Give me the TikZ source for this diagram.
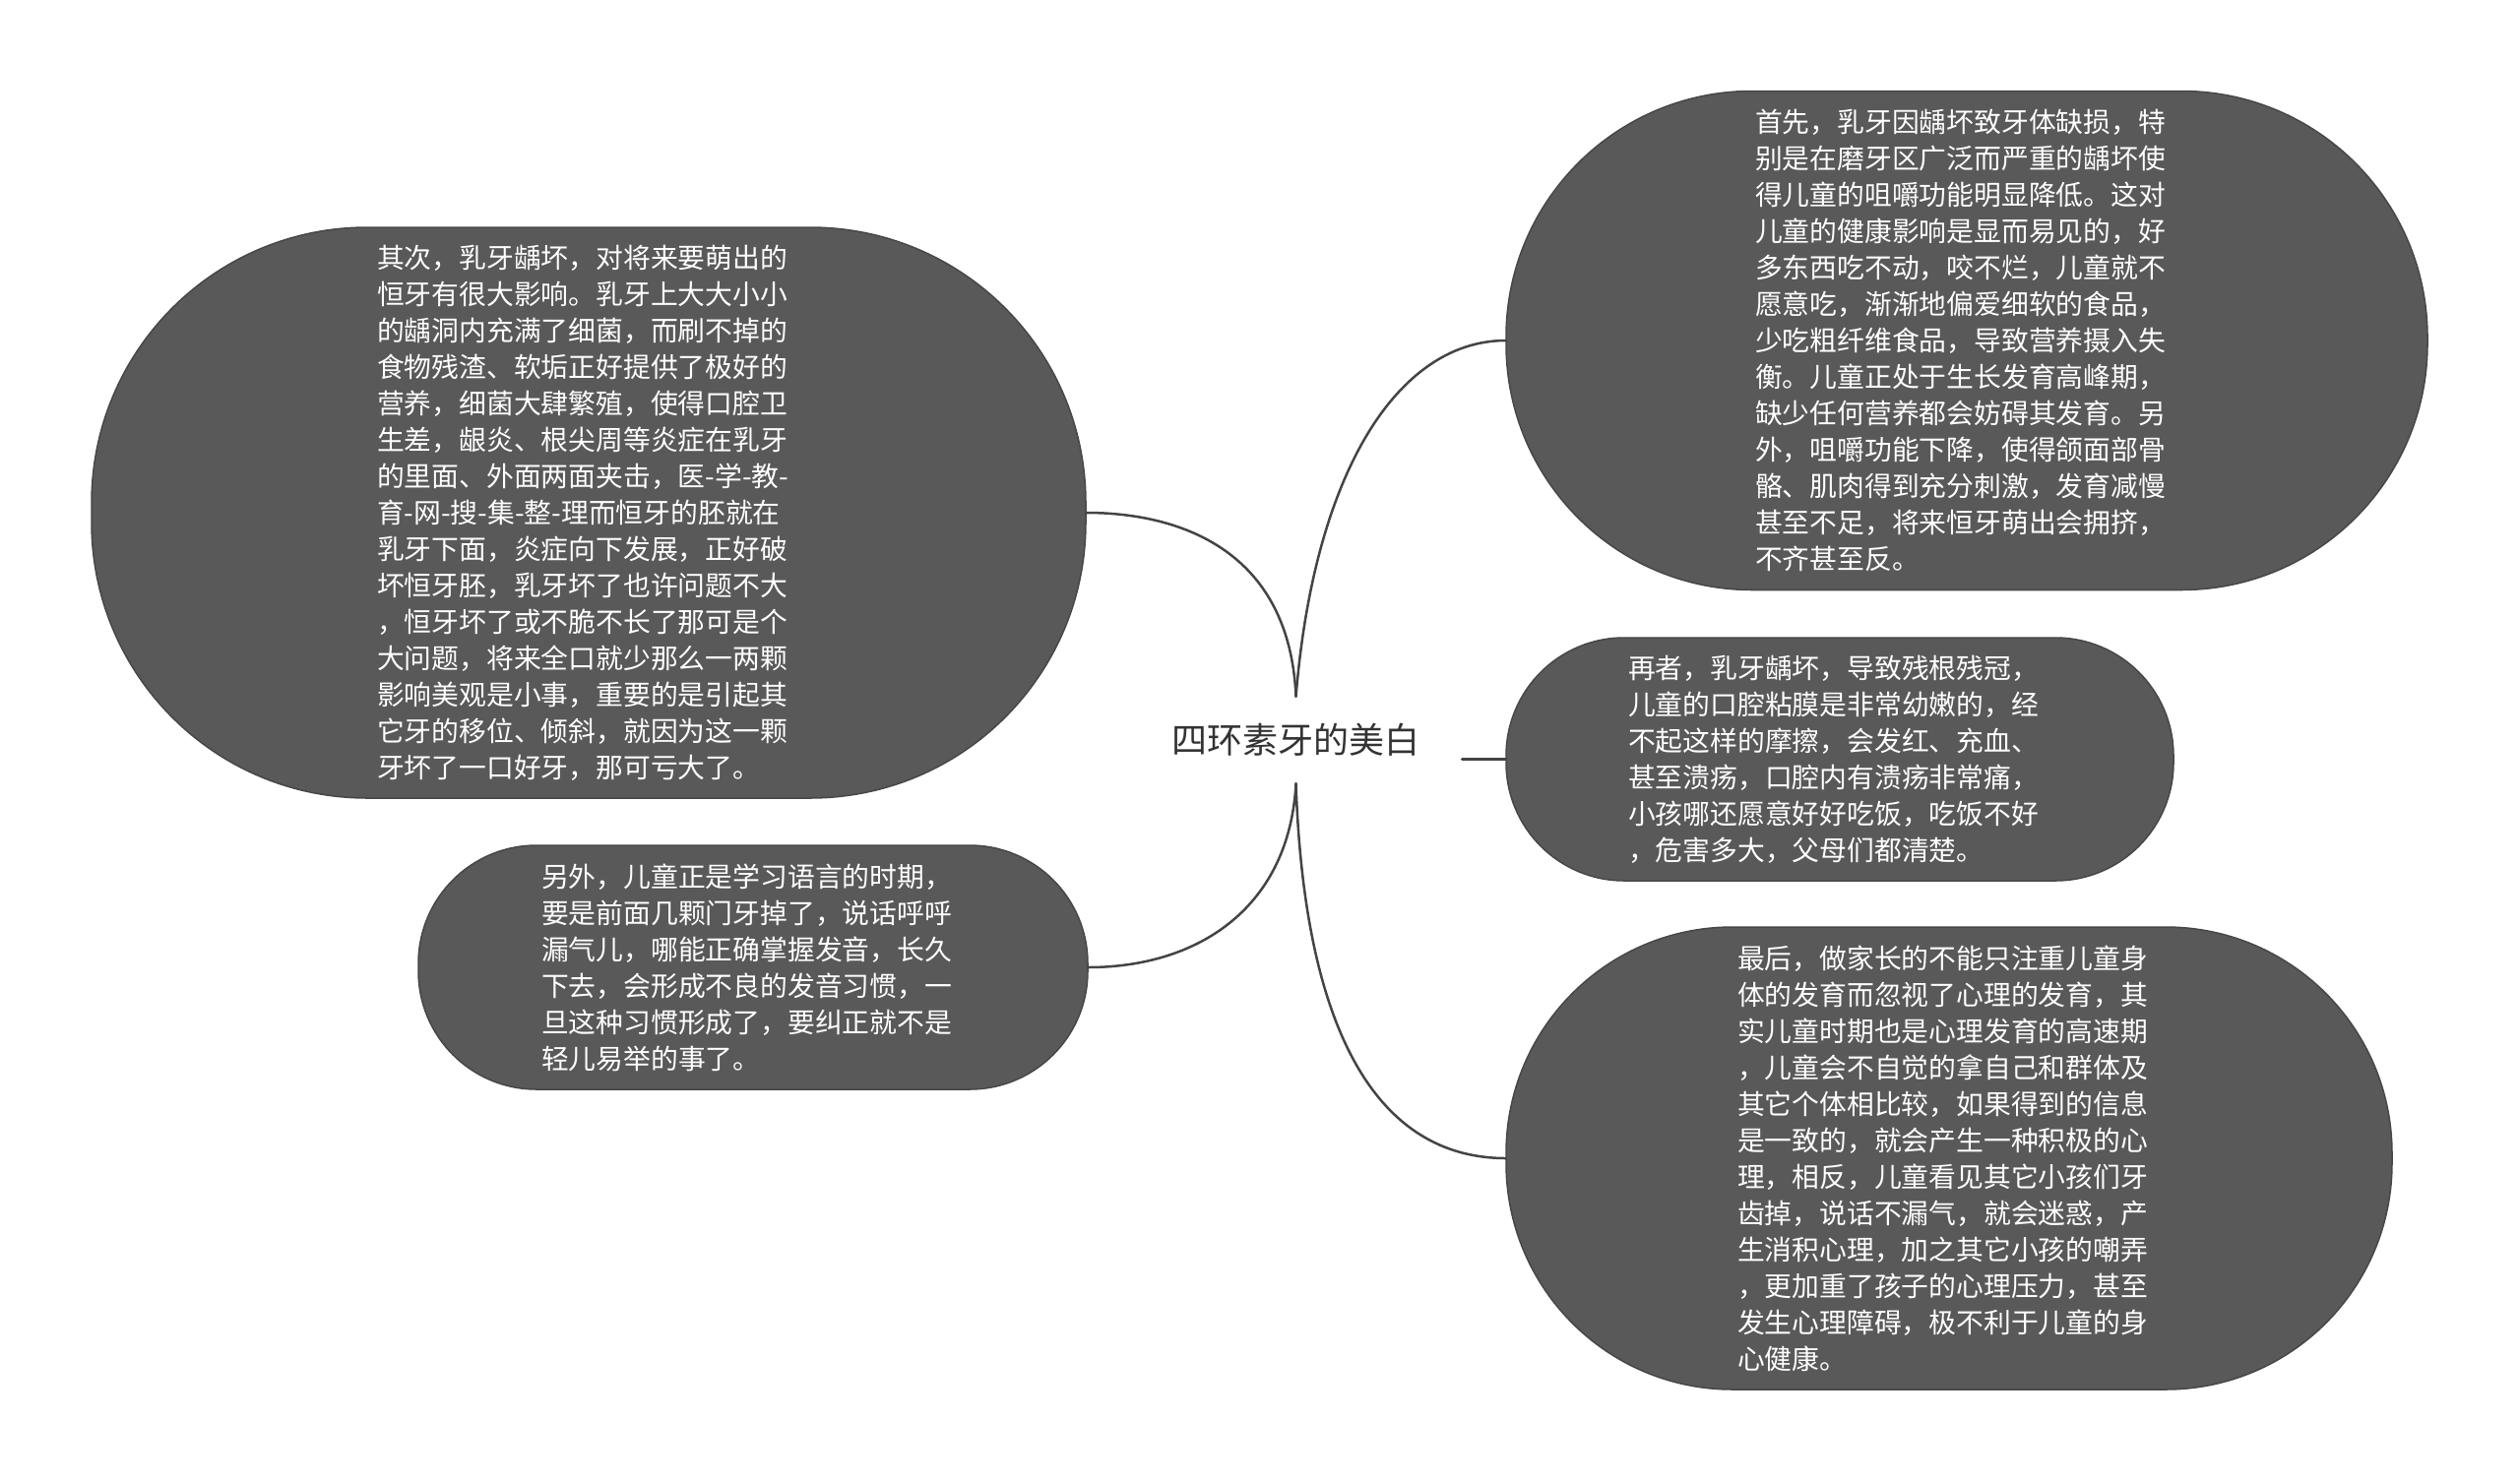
\documentclass[tikz,border=0pt]{standalone}
\usepackage{fontspec}
\newfontfamily\cjk{Noto Sans CJK SC}
\definecolor{nodefill}{HTML}{595959}
\definecolor{nodeline}{HTML}{474747}
\definecolor{linkcol}{HTML}{444444}
\definecolor{titlecol}{HTML}{333333}
\begin{document}
\begin{tikzpicture}[x=1pt,y=-1pt,
  bubble/.style={draw=nodeline, line width=1.5pt, fill=nodefill, inner sep=0pt, outer sep=0pt,
    text=white, font=\cjk\fontsize{27.8}{37}\selectfont, align=left, text width=430pt},
  link/.style={draw=linkcol, line width=2.5pt, line cap=round},
]
\useasboundingbox (0,0) rectangle (2560,1505);

\node[font=\cjk\fontsize{36}{40}\selectfont, text=titlecol, minimum width=337pt, minimum height=88pt, inner sep=0pt] (root) at (1316.5,752) {四环素牙的美白};

\node[bubble, rounded corners=250pt, minimum width=936pt, minimum height=507pt] (tr) at (1998,346) {首先，乳牙因龋坏致牙体缺损，特\\
别是在磨牙区广泛而严重的龋坏使\\
得儿童的咀嚼功能明显降低。这对\\
儿童的健康影响是显而易见的，好\\
多东西吃不动，咬不烂，儿童就不\\
愿意吃，渐渐地偏爱细软的食品，\\
少吃粗纤维食品，导致营养摄入失\\
衡。儿童正处于生长发育高峰期，\\
缺少任何营养都会妨碍其发育。另\\
外，咀嚼功能下降，使得颌面部骨\\
骼、肌肉得到充分刺激，发育减慢\\
甚至不足，将来恒牙萌出会拥挤，\\
不齐甚至反。};

\node[bubble, rounded corners=120pt, minimum width=678pt, minimum height=247pt] (mr) at (1869,771.5) {再者，乳牙龋坏，导致残根残冠，\\
儿童的口腔粘膜是非常幼嫩的，经\\
不起这样的摩擦，会发红、充血、\\
甚至溃疡，口腔内有溃疡非常痛，\\
小孩哪还愿意好好吃饭，吃饭不好\\
，危害多大，父母们都清楚。};

\node[bubble, rounded corners=230pt, minimum width=900pt, minimum height=470pt] (br) at (1980,1177) {最后，做家长的不能只注重儿童身\\
体的发育而忽视了心理的发育，其\\
实儿童时期也是心理发育的高速期\\
，儿童会不自觉的拿自己和群体及\\
其它个体相比较，如果得到的信息\\
是一致的，就会产生一种积极的心\\
理，相反，儿童看见其它小孩们牙\\
齿掉，说话不漏气，就会迷惑，产\\
生消积心理，加之其它小孩的嘲弄\\
，更加重了孩子的心理压力，甚至\\
发生心理障碍，极不利于儿童的身\\
心健康。};

\node[bubble, rounded corners=280pt, minimum width=1010pt, minimum height=580pt] (lb) at (598,521) {其次，乳牙龋坏，对将来要萌出的\\
恒牙有很大影响。乳牙上大大小小\\
的龋洞内充满了细菌，而刷不掉的\\
食物残渣、软垢正好提供了极好的\\
营养，细菌大肆繁殖，使得口腔卫\\
生差，龈炎、根尖周等炎症在乳牙\\
的里面、外面两面夹击，医-学-教-\\
育-网-搜-集-整-理而恒牙的胚就在\\
乳牙下面，炎症向下发展，正好破\\
坏恒牙胚，乳牙坏了也许问题不大\\
，恒牙坏了或不脆不长了那可是个\\
大问题，将来全口就少那么一两颗\\
影响美观是小事，重要的是引起其\\
它牙的移位、倾斜，就因为这一颗\\
牙坏了一口好牙，那可亏大了。};

\node[bubble, rounded corners=120pt, minimum width=680pt, minimum height=248pt] (bl) at (765,983) {另外，儿童正是学习语言的时期，\\
要是前面几颗门牙掉了，说话呼呼\\
漏气儿，哪能正确掌握发音，长久\\
下去，会形成不良的发音习惯，一\\
旦这种习惯形成了，要纠正就不是\\
轻儿易举的事了。};

\draw[link] (root.north) .. controls (1335,480) and (1420,346) .. (tr.west);
\draw[link] (root.north) .. controls (1310,560) and (1200,521) .. (lb.east);
\draw[link] (root.south) .. controls (1325,1050) and (1400,1177) .. (br.west);
\draw[link] (root.south) .. controls (1310,920) and (1220,983) .. (bl.east);
\draw[link] (root.east |- mr.west) -- (mr.west);
\end{tikzpicture}
\end{document}
